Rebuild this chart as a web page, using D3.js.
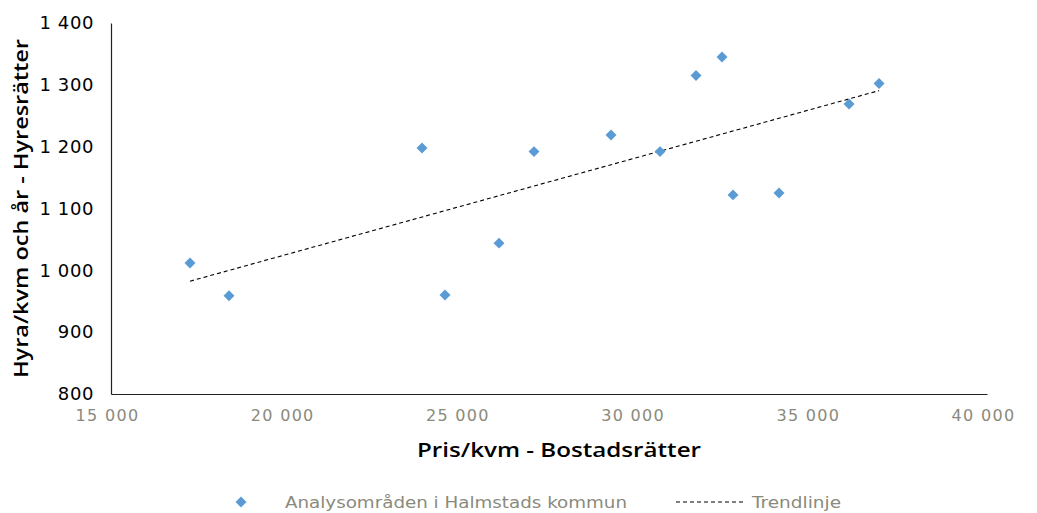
<!DOCTYPE html>
<html><head><meta charset="utf-8">
<script src="https://cdn.jsdelivr.net/npm/d3@7"></script>
<style>body{margin:0;background:#fff}svg{display:block}</style>
</head><body>
<svg id="c" width="1037" height="513"></svg>
<script>
const priceKvm = [17255, 18368, 23876, 24532, 26073, 27072, 29270, 30669, 31696, 32438, 32752, 34065, 36063, 36920];
const rentKvm  = [1012, 959, 1198, 960, 1044, 1192, 1219, 1192, 1315, 1345, 1122, 1125, 1269, 1302];
const xTicks = [15000, 20000, 25000, 30000, 35000, 40000];
const yTicks = [800, 900, 1000, 1100, 1200, 1300, 1400];
const xTitle = "Pris/kvm - Bostadsrätter";
const yTitle = "Hyra/kvm och år - Hyresrätter";
const seriesName = "Analysområden i Halmstads kommun";
const trendName = "Trendlinje";

const svg = d3.select("#c");
const font = "'DejaVu Sans', sans-serif";
const tfont = "'Open Sans', 'DejaVu Sans', sans-serif";
const m = {l:111, r:987, t:23, b:394};
const x = d3.scaleLinear().domain([15000, 40000]).range([m.l, m.r]);
const y = d3.scaleLinear().domain([800, 1400]).range([m.b, m.t]);
const fmt = v => d3.format(",")(v).replace(/,/g, " ");

// axes
const xa = svg.append("g").attr("transform", `translate(0,${m.b})`)
  .call(d3.axisBottom(x).tickValues(xTicks).tickFormat(fmt).tickSize(0).tickPadding(16));
xa.select(".domain").attr("stroke", "#222").attr("stroke-width", 1.2);
xa.selectAll("text").attr("font-family", font).attr("font-size", 16).attr("fill", "#8a8a7c")
  .attr("letter-spacing", 1.3).attr("dx", -4);

const ya = svg.append("g").attr("transform", `translate(${m.l},0)`)
  .call(d3.axisLeft(y).tickValues(yTicks).tickFormat(fmt).tickSize(0).tickPadding(17));
ya.select(".domain").attr("stroke", "#222").attr("stroke-width", 1.2);
ya.selectAll("text").attr("font-family", font).attr("font-size", 18).attr("fill", "#000")
  .attr("letter-spacing", 0.6);

// trend line (least squares)
const n = priceKvm.length;
const mx = d3.mean(priceKvm), my = d3.mean(rentKvm);
let sxy = 0, sxx = 0;
for (let i = 0; i < n; i++) { sxy += (priceKvm[i]-mx)*(rentKvm[i]-my); sxx += (priceKvm[i]-mx)**2; }
const slope = sxy/sxx, icpt = my - slope*mx;
const x0 = d3.min(priceKvm), x1 = d3.max(priceKvm);
svg.append("line")
  .attr("x1", x(x0)).attr("y1", y(icpt + slope*x0))
  .attr("x2", x(x1)).attr("y2", y(icpt + slope*x1))
  .attr("stroke", "#000").attr("stroke-width", 1.1).attr("stroke-dasharray", "4,3");

// points
const diamond = d3.symbol().type(d3.symbolSquare).size(60)();
svg.append("g").selectAll("path").data(priceKvm.map((p,i)=>[p, rentKvm[i]])).join("path")
  .attr("d", diamond)
  .attr("transform", d => `translate(${x(d[0])},${y(d[1])}) rotate(45)`)
  .attr("fill", "#5b9bd5");

// titles
svg.append("text").attr("x", 417).attr("y", 457)
  .attr("font-family", tfont).attr("font-weight", 600).attr("font-size", 20).attr("fill", "#000")
  .attr("textLength", 284).attr("lengthAdjust", "spacingAndGlyphs").text(xTitle);
svg.append("text").attr("transform", "translate(28,378) rotate(-90)")
  .attr("font-family", tfont).attr("font-weight", 600).attr("font-size", 20).attr("fill", "#000")
  .attr("textLength", 339).attr("lengthAdjust", "spacingAndGlyphs").text(yTitle);

// legend
const lg = svg.append("g");
lg.append("path").attr("d", diamond).attr("transform", "translate(241,502) rotate(45)").attr("fill", "#5b9bd5");
lg.append("text").attr("x", 285).attr("y", 508).attr("font-family", font).attr("font-size", 16)
  .attr("fill", "#8a8a7c").attr("textLength", 342).attr("lengthAdjust", "spacingAndGlyphs").text(seriesName);
lg.append("line").attr("x1", 676).attr("x2", 746).attr("y1", 502).attr("y2", 502)
  .attr("stroke", "#000").attr("stroke-width", 1.1).attr("stroke-dasharray", "4,3");
lg.append("text").attr("x", 752).attr("y", 508).attr("font-family", font).attr("font-size", 16)
  .attr("fill", "#8a8a7c").attr("textLength", 89).attr("lengthAdjust", "spacingAndGlyphs").text(trendName);
</script>
</body></html>
